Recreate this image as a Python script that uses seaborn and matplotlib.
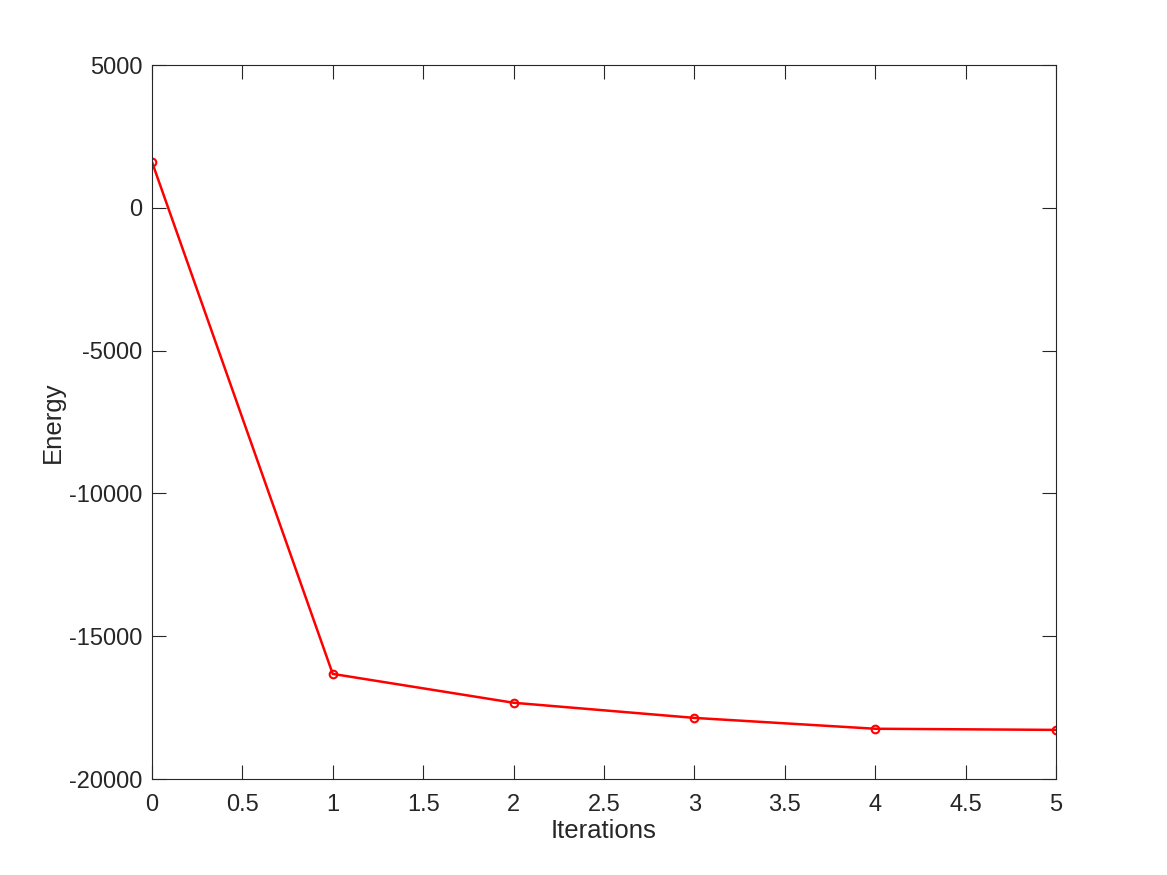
import numpy as np
import pandas as pd
import matplotlib
matplotlib.use('Agg')
import matplotlib.pyplot as plt
import seaborn as sns

iterations = [0, 1, 2, 3, 4, 5]
energy = [1610, -16320, -17330, -17860, -18240, -18280]

df = pd.DataFrame({'Iterations': iterations, 'Energy': energy})

sns.set_style('ticks')
plt.rcParams['font.family'] = ['Liberation Sans', 'DejaVu Sans']
plt.rcParams['text.color'] = '#262626'
plt.rcParams['axes.labelcolor'] = '#262626'
plt.rcParams['xtick.color'] = '#262626'
plt.rcParams['ytick.color'] = '#262626'

fig = plt.figure(figsize=(11.67, 8.75), dpi=100)
ax = fig.add_axes([0.1302, 0.1097, 0.7746, 0.8160])

sns.lineplot(data=df, x='Iterations', y='Energy', ax=ax, color='red',
             linewidth=1.8, marker='o', markersize=5.5,
             markerfacecolor='none', markeredgecolor='red', markeredgewidth=1.5)

ax.set_xlim(0, 5)
ax.set_ylim(-20000, 5000)
ax.set_xticks(np.arange(0, 5.01, 0.5))
ax.set_xticklabels(['0', '0.5', '1', '1.5', '2', '2.5', '3', '3.5', '4', '4.5', '5'])
ax.set_yticks(np.arange(-20000, 5001, 5000))
ax.set_yticklabels([str(v) for v in range(-20000, 5001, 5000)])

for s in ax.spines.values():
    s.set_visible(True)
    s.set_color('#262626')
    s.set_linewidth(0.8)
ax.tick_params(direction='in', top=True, right=True, length=10, width=0.8,
               labelsize=17)
ax.tick_params(axis='x', pad=11)
ax.tick_params(axis='y', pad=7)
ax.set_xlabel('Iterations', fontsize=18.5, labelpad=2)
ax.set_ylabel('Energy', fontsize=18.5, labelpad=3)

fig.savefig('out.png', dpi=100)
